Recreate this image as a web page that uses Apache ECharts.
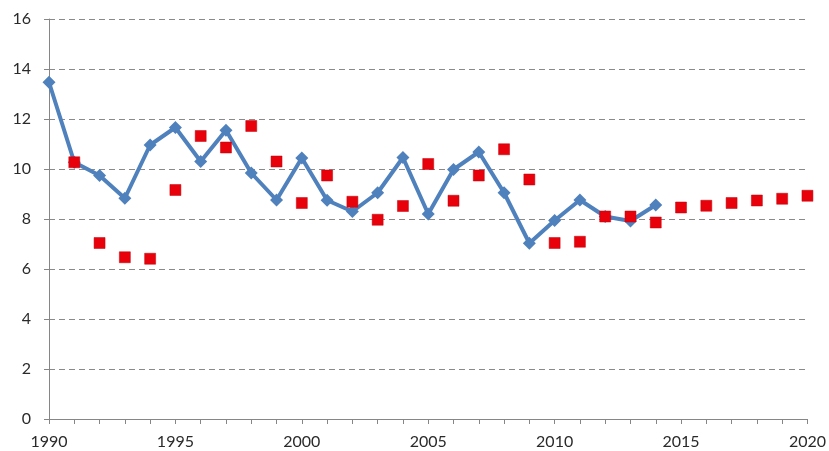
<!DOCTYPE html>
<html>
<head>
<meta charset="utf-8">
<script src="https://cdn.jsdelivr.net/npm/echarts@6/dist/echarts.min.js"></script>
<style>html,body{margin:0;padding:0;background:#fff;}#c{width:829px;height:451px;}</style>
</head>
<body>
<div id="c"></div>
<script>
var lineYears = [1990,1991,1992,1993,1994,1995,1996,1997,1998,1999,2000,2001,2002,2003,2004,2005,2006,2007,2008,2009,2010,2011,2012,2013,2014];
var lineValues = [13.47,10.27,9.74,8.83,10.96,11.66,10.30,11.55,9.84,8.76,10.44,8.75,8.30,9.05,10.46,8.20,9.98,10.68,9.05,7.03,7.94,8.76,8.10,7.92,8.56];
var pointYears = [1991,1992,1993,1994,1995,1996,1997,1998,1999,2000,2001,2002,2003,2004,2005,2006,2007,2008,2009,2010,2011,2012,2013,2014,2015,2016,2017,2018,2019,2020];
var pointValues = [10.27,7.04,6.47,6.41,9.16,11.32,10.86,11.72,10.30,8.64,9.74,8.69,7.97,8.52,10.20,8.73,9.74,10.79,9.58,7.04,7.09,8.10,8.10,7.86,8.46,8.53,8.64,8.74,8.81,8.93];
var xTickLabels = [1990,1995,2000,2005,2010,2015,2020];
var yTickLabels = [0,2,4,6,8,10,12,14,16];

var lineData = lineYears.map(function(y,i){return [y,lineValues[i]];});
var pointData = pointYears.map(function(y,i){return [y,pointValues[i]];});

var chart = echarts.init(document.getElementById('c'));
var font = 'Lato, "Open Sans", sans-serif';
chart.setOption({
  animation:false,
  grid:{left:49,right:19,top:19,bottom:32,containLabel:false},
  xAxis:{
    type:'value',min:1990,max:2020,interval:1,
    axisLine:{show:true,lineStyle:{color:'#868686',width:1}},
    axisTick:{show:true,length:5,lineStyle:{color:'#868686'}},
    splitLine:{show:false},
    axisLabel:{
      margin:15,color:'#2a2a2a',fontSize:16,fontFamily:font,
      showMinLabel:true,showMaxLabel:true,
      formatter:function(v){return xTickLabels.indexOf(v)>=0?String(v):'';}
    }
  },
  yAxis:{
    type:'value',min:0,max:16,interval:2,
    axisLine:{show:true,lineStyle:{color:'#868686',width:1}},
    axisTick:{show:true,length:5,lineStyle:{color:'#868686'}},
    splitLine:{show:true,lineStyle:{color:'#8a8a8a',type:[6,4],width:1}},
    axisLabel:{
      margin:18,color:'#2a2a2a',fontSize:16,fontFamily:font,
      formatter:function(v){return yTickLabels.indexOf(v)>=0?String(v):'';}
    }
  },
  series:[
    {
      type:'line',data:lineData,
      lineStyle:{color:'#4F81BD',width:4},
      itemStyle:{color:'#4F81BD'},
      symbol:'diamond',symbolSize:13,showSymbol:true,z:2
    },
    {
      type:'scatter',data:pointData,
      symbol:'rect',symbolSize:11,
      itemStyle:{color:'#E8000B',opacity:1,borderColor:'#C0000A',borderWidth:0.5},z:3
    }
  ]
});
</script>
</body>
</html>
